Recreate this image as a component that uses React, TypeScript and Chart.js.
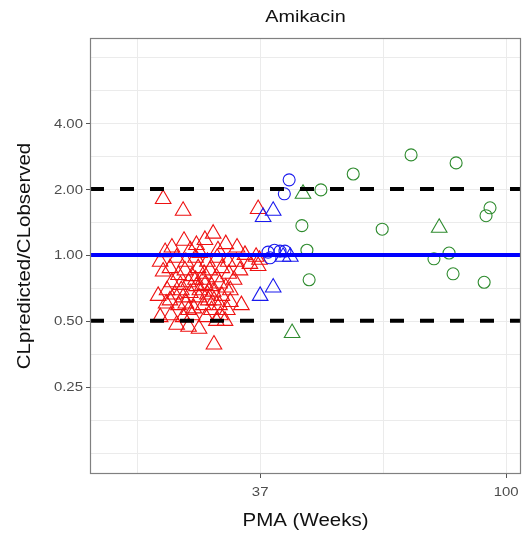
import React, { useEffect, useRef } from "react";
import { Chart, registerables } from "chart.js";

Chart.register(...registerables);

// Axis limits (PMA in weeks on a log scale, clearance ratio on a log2 scale)
const PMA_MIN = 18.6;
const PMA_MAX = 106.2;
const RATIO_MIN = 0.1;
const RATIO_MAX = 9.77;

const X_TICKS = [37, 100];
const X_TICK_LABELS = ["37", "100"];
const X_MINOR_GRID = [22.5, 60.8];
const Y_TICKS = [0.25, 0.5, 1, 2, 4];
const Y_TICK_LABELS = ["0.25", "0.50", "1.00", "2.00", "4.00"];
const Y_MAJOR_GRID = [0.125, 0.25, 0.5, 1, 2, 4, 8];

const REF_LOW = 0.5;
const REF_MID = 1;
const REF_HIGH = 2;

// Neonates (red triangles)
const redPMA = [
  30.6, 27.2, 28.6, 29.6, 32.2, 33.7, 25.9, 27.9, 31.2, 29.0, 25.2,
  34.8, 36.4, 36.9, 24.7, 26.4, 27.4, 28.5, 29.9, 31.1, 32.5, 33.6, 35.5, 36.7,
  25.0, 25.7, 26.6, 27.3, 28.1, 28.8, 29.5, 30.2, 31.0, 31.7, 32.6, 33.3,
  25.9, 26.8, 27.7, 28.6, 29.4, 30.4, 31.4, 32.2, 25.4, 34.1,
  24.5, 26.2, 27.1, 27.9, 28.9, 29.9, 30.7, 31.7, 32.8, 25.3, 26.6, 27.4,
  28.3, 29.4, 30.4, 31.4, 32.4, 34.3,
  24.7, 25.8, 27.1, 28.1, 28.9, 29.7, 31.0, 32.1, 27.7, 26.4,
  25.0, 27.1, 36.7, 30.7,
  28.5, 29.0, 30.0, 26.9, 30.6, 27.7, 31.5, 25.7, 32.8, 29.6,
];
const redRatio = [
  1.25, 1.16, 1.11, 1.17, 1.12, 1.08, 1.08, 1.05, 1.05, 1.02, 1.03,
  1.0, 0.98, 0.95, 0.93, 0.97, 0.93, 0.97, 0.93, 0.97, 0.93, 0.93, 0.91, 0.89,
  0.84, 0.87, 0.81, 0.85, 0.8, 0.87, 0.82, 0.85, 0.79, 0.87, 0.82, 0.77,
  0.75, 0.73, 0.75, 0.72, 0.77, 0.72, 0.74, 0.71, 0.69, 0.85,
  0.65, 0.66, 0.64, 0.67, 0.64, 0.66, 0.62, 0.65, 0.61, 0.6, 0.59, 0.6,
  0.57, 0.59, 0.56, 0.59, 0.56, 0.59,
  0.52, 0.53, 0.52, 0.53, 0.46, 0.52, 0.5, 0.5, 0.47, 0.48,
  1.8, 1.59, 1.62, 0.39,
  0.77, 0.69, 0.62, 0.69, 0.68, 0.56, 0.53, 0.62, 0.69, 0.73,
];

// Infants around term (blue)
const blueCirclePMA = [41.6, 40.8, 38.2, 39.2, 40.1, 40.9, 38.5];
const blueCircleRatio = [2.2, 1.9, 1.03, 1.05, 1.04, 1.04, 0.97];
const blueTrianglePMA = [37.45, 39.0, 37.0, 39.0, 40.6, 41.8];
const blueTriangleRatio = [1.49, 1.59, 0.65, 0.71, 0.98, 0.98];

// Older children (green)
const greenCirclePMA = [53.9, 68.1, 81.7, 47.3, 43.8, 44.7, 45.1, 60.6, 74.7, 79.4, 80.7, 93.7, 92.2, 91.5];
const greenCircleRatio = [2.34, 2.86, 2.63, 1.98, 1.36, 1.05, 0.77, 1.31, 0.96, 1.02, 0.82, 1.64, 1.51, 0.75];
const greenTrianglePMA = [44.0, 76.3, 42.1];
const greenTriangleRatio = [1.9, 1.33, 0.44];

const RED = "#ee1111";
const BLUE = "#1a1aee";
const GREEN = "#2e8b2e";

const FONT = '"Liberation Sans", Arial, Helvetica, sans-serif';

const toPoints = (xs: number[], ys: number[]) => xs.map((x, i) => ({ x, y: ys[i] }));

function drawText(
  ctx: CanvasRenderingContext2D,
  text: string,
  x: number,
  y: number,
  size: number,
  color: string,
  align: CanvasTextAlign,
  sx: number,
  rotate = false
) {
  ctx.save();
  ctx.translate(x, y);
  if (rotate) ctx.rotate(-Math.PI / 2);
  ctx.scale(sx, 1);
  ctx.font = `${size}px ${FONT}`;
  ctx.fillStyle = color;
  ctx.textAlign = align;
  ctx.textBaseline = "middle";
  ctx.fillText(text, 0, 0);
  ctx.restore();
}

const panelPlugin = {
  id: "panelDecor",
  beforeDatasetsDraw(chart: any) {
    const { ctx, chartArea: a, scales } = chart;
    const x = scales.x;
    const y = scales.y;
    ctx.save();
    ctx.strokeStyle = "#ebebeb";
    ctx.lineWidth = 1;
    const vLines = [...X_MINOR_GRID, ...X_TICKS];
    vLines.forEach((v) => {
      const px = Math.round(x.getPixelForValue(v)) + 0.5;
      ctx.beginPath();
      ctx.moveTo(px, a.top);
      ctx.lineTo(px, a.bottom);
      ctx.stroke();
    });
    const hLines: number[] = [];
    for (let i = 0; i < Y_MAJOR_GRID.length; i++) {
      hLines.push(Y_MAJOR_GRID[i]);
      if (i < Y_MAJOR_GRID.length - 1) hLines.push(Math.sqrt(Y_MAJOR_GRID[i] * Y_MAJOR_GRID[i + 1]));
    }
    hLines.forEach((v) => {
      const py = Math.round(y.getPixelForValue(v)) + 0.5;
      ctx.beginPath();
      ctx.moveTo(a.left, py);
      ctx.lineTo(a.right, py);
      ctx.stroke();
    });
    ctx.restore();
  },
  afterDraw(chart: any) {
    const { ctx, chartArea: a, scales } = chart;
    const x = scales.x;
    const y = scales.y;
    ctx.save();
    // panel border
    ctx.strokeStyle = "#808080";
    ctx.lineWidth = 1.2;
    ctx.strokeRect(a.left + 0.5, a.top + 0.5, a.right - a.left - 1, a.bottom - a.top - 1);

    // tick marks
    ctx.strokeStyle = "#555555";
    ctx.lineWidth = 1;
    Y_TICKS.forEach((v) => {
      const py = Math.round(y.getPixelForValue(v)) + 0.5;
      ctx.beginPath();
      ctx.moveTo(a.left - 4, py);
      ctx.lineTo(a.left, py);
      ctx.stroke();
    });
    X_TICKS.forEach((v) => {
      const px = Math.round(x.getPixelForValue(v)) + 0.5;
      ctx.beginPath();
      ctx.moveTo(px, a.bottom);
      ctx.lineTo(px, a.bottom + 4);
      ctx.stroke();
    });
    ctx.restore();

    // tick labels
    Y_TICKS.forEach((v, i) => {
      drawText(ctx, Y_TICK_LABELS[i], a.left - 7, y.getPixelForValue(v) + 1, 13, "#4d4d4d", "right", 1.15);
    });
    X_TICKS.forEach((v, i) => {
      drawText(ctx, X_TICK_LABELS[i], x.getPixelForValue(v), a.bottom + 18, 13, "#4d4d4d", "center", 1.15);
    });

    const cx = (a.left + a.right) / 2;
    const cy = (a.top + a.bottom) / 2;
    drawText(ctx, "Amikacin", cx, 17, 16.5, "#111111", "center", 1.2);
    drawText(ctx, "PMA (Weeks)", cx, 521, 17.5, "#111111", "center", 1.17);
    drawText(ctx, "CLpredicted/CLobserved", 25, cy, 17.5, "#111111", "center", 1.17, true);
  },
};

export default function App() {
  const canvasRef = useRef<HTMLCanvasElement>(null);

  useEffect(() => {
    const prevMargin = document.body.style.margin;
    document.body.style.margin = "0";
    const canvas = canvasRef.current;
    if (!canvas) return;

    const refLine = (value: number, color: string, width: number, dash: number[]) => ({
      type: "line" as const,
      data: [
        { x: PMA_MIN, y: value },
        { x: PMA_MAX, y: value },
      ],
      borderColor: color,
      borderWidth: width,
      borderDash: dash,
      pointRadius: 0,
      showLine: true,
      fill: false,
    });

    const pointSet = (xs: number[], ys: number[], color: string, style: string, radius: number) => ({
      data: toPoints(xs, ys),
      pointStyle: style,
      pointRadius: radius,
      pointBorderWidth: 1.1,
      borderColor: color,
      backgroundColor: "rgba(0,0,0,0)",
      pointBackgroundColor: "rgba(0,0,0,0)",
      pointBorderColor: color,
      showLine: false,
    });

    const chart = new Chart(canvas, {
      type: "scatter",
      data: {
        datasets: [
          refLine(REF_HIGH, "#000000", 4, [14, 16]),
          refLine(REF_LOW, "#000000", 4, [14, 16]),
          refLine(REF_MID, "#0000ff", 4, []),
          pointSet(greenTrianglePMA, greenTriangleRatio, GREEN, "triangle", 9),
          pointSet(greenCirclePMA, greenCircleRatio, GREEN, "circle", 6),
          pointSet(blueTrianglePMA, blueTriangleRatio, BLUE, "triangle", 9),
          pointSet(blueCirclePMA, blueCircleRatio, BLUE, "circle", 6),
          pointSet(redPMA, redRatio, RED, "triangle", 9),
        ] as any,
      },
      options: {
        responsive: false,
        animation: false,
        devicePixelRatio: 1,
        layout: { autoPadding: false, padding: { left: 90, right: 3, top: 38, bottom: 59 } },
        scales: {
          x: { type: "logarithmic", min: PMA_MIN, max: PMA_MAX, display: false },
          y: { type: "logarithmic", min: RATIO_MIN, max: RATIO_MAX, display: false },
        },
        plugins: {
          legend: { display: false },
          tooltip: { enabled: false },
          title: { display: false },
        },
      },
      plugins: [panelPlugin],
    });

    return () => {
      chart.destroy();
      document.body.style.margin = prevMargin;
    };
  }, []);

  return (
    <div style={{ width: 524, height: 533 }}>
      <canvas ref={canvasRef} width={524} height={533} style={{ display: "block" }} />
    </div>
  );
}
